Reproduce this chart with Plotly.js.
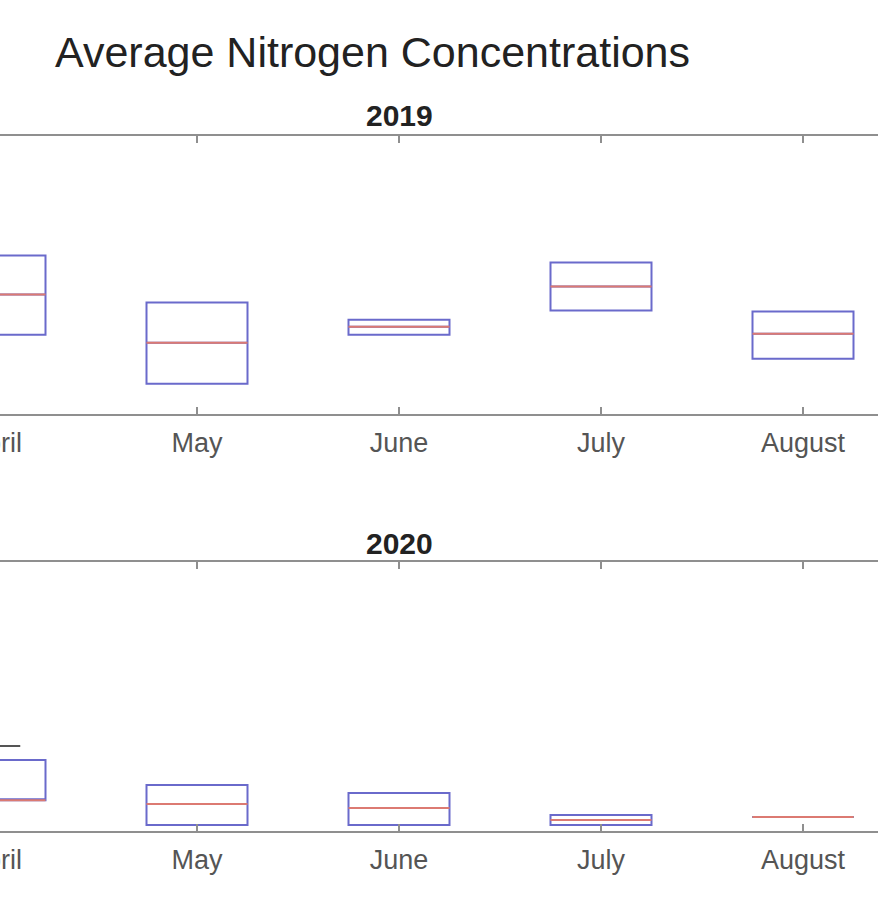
<!DOCTYPE html>
<html>
<head>
<meta charset="utf-8">
<script src="https://cdn.plot.ly/plotly-3.0.1.min.js"></script>
<style>
html,body{margin:0;padding:0;overflow:hidden;background:#fff;width:878px;height:920px;}
#chart{position:absolute;left:-126px;top:0;width:1050px;height:920px;}
</style>
</head>
<body>
<div id="chart"></div>
<script>
// Month categories
const months = ["April", "May", "June", "July", "August"];

// 2019 box statistics (estimated; y scale not labelled in the reference)
const q1_2019     = [0.713, 0.271, 0.713, 0.930, 0.496];
const median_2019 = [1.074, 0.641, 0.785, 1.146, 0.722];
const q3_2019     = [1.426, 1.002, 0.848, 1.363, 0.921];

// 2020 box statistics
const q1_2020     = [0.285, 0.056, 0.056, 0.056, 0.130];
const median_2020 = [0.285, 0.251, 0.214, 0.102, 0.130];
const q3_2020     = [0.660, 0.427, 0.353, 0.149, 0.130];
const upper_2020  = [0.790, 0.427, 0.353, 0.149, 0.130];

const boxBlue = '#6a6acb';
const medRed = '#dc7a72';
const axisGray = '#8f8f8f';
const none = 'rgba(0,0,0,0)';

function boxTrace(xa, ya, q1, med, q3, lf, uf, color) {
  return {
    type: 'box', x: months, q1: q1, median: med, q3: q3,
    lowerfence: lf, upperfence: uf,
    xaxis: xa, yaxis: ya, width: 0.5, whiskerwidth: 0.5,
    line: {color: color, width: 2}, fillcolor: none,
    boxpoints: false, hoverinfo: 'skip', showlegend: false
  };
}

const traces = [
  // 2019
  boxTrace('x', 'y', q1_2019, median_2019, q3_2019, q1_2019, q3_2019, boxBlue),
  boxTrace('x', 'y', median_2019, median_2019, median_2019, median_2019, median_2019, medRed),
  // 2020 whiskers (dark), then boxes, then medians
  boxTrace('x2', 'y2', q3_2020, q3_2020, q3_2020, q3_2020, upper_2020, '#555555'),
  boxTrace('x2', 'y2', q1_2020, median_2020, q3_2020, q1_2020, q3_2020, boxBlue),
  boxTrace('x2', 'y2', median_2020, median_2020, median_2020, median_2020, median_2020, medRed)
];

const xax = {
  type: 'category', categoryorder: 'array', categoryarray: months,
  range: [-0.5, 4.5],
  showline: true, linecolor: axisGray, linewidth: 2, mirror: 'ticks',
  ticks: 'inside', ticklen: 7, tickwidth: 2, tickcolor: axisGray,
  ticklabelstandoff: 4,
  tickfont: {family: 'Liberation Sans, Arial, sans-serif', size: 27, color: '#555555'},
  showgrid: false, zeroline: false, fixedrange: true
};
const yax = {
  range: [0, 2.5], showline: true, linecolor: axisGray, linewidth: 2, mirror: 'ticks',
  ticks: 'inside', tickcolor: axisGray, showticklabels: false,
  showgrid: false, zeroline: false, fixedrange: true
};

const layout = {
  width: 1050, height: 920,
  margin: {l: 20, r: 20, t: 0, b: 0},
  paper_bgcolor: '#ffffff', plot_bgcolor: '#ffffff',
  boxmode: 'overlay',
  title: {
    text: 'Average Nitrogen Concentrations',
    xref: 'container', yref: 'container',
    x: 181/1050, xanchor: 'left', y: 1 - 52/920, yanchor: 'middle',
    font: {family: 'Liberation Sans, Arial, sans-serif', size: 43, color: '#222222'}
  },
  xaxis: Object.assign({}, xax, {anchor: 'y', domain: [0, 1]}),
  yaxis: Object.assign({}, yax, {anchor: 'x', domain: [1 - 414/920, 1 - 136/920]}),
  xaxis2: Object.assign({}, xax, {anchor: 'y2', domain: [0, 1]}),
  yaxis2: Object.assign({}, yax, {anchor: 'x2', domain: [1 - 831/920, 1 - 562/920]}),
  annotations: [
    {text: '<b>2019</b>', xref: 'paper', yref: 'paper', x: 0.5, y: 1 - 116/920,
     xanchor: 'center', yanchor: 'middle', showarrow: false,
     font: {family: 'Liberation Sans, Arial, sans-serif', size: 30, color: '#222222'}},
    {text: '<b>2020</b>', xref: 'paper', yref: 'paper', x: 0.5, y: 1 - 543/920,
     xanchor: 'center', yanchor: 'middle', showarrow: false,
     font: {family: 'Liberation Sans, Arial, sans-serif', size: 30, color: '#222222'}}
  ]
};

Plotly.newPlot('chart', traces, layout, {displayModeBar: false, staticPlot: true});
</script>
</body>
</html>
